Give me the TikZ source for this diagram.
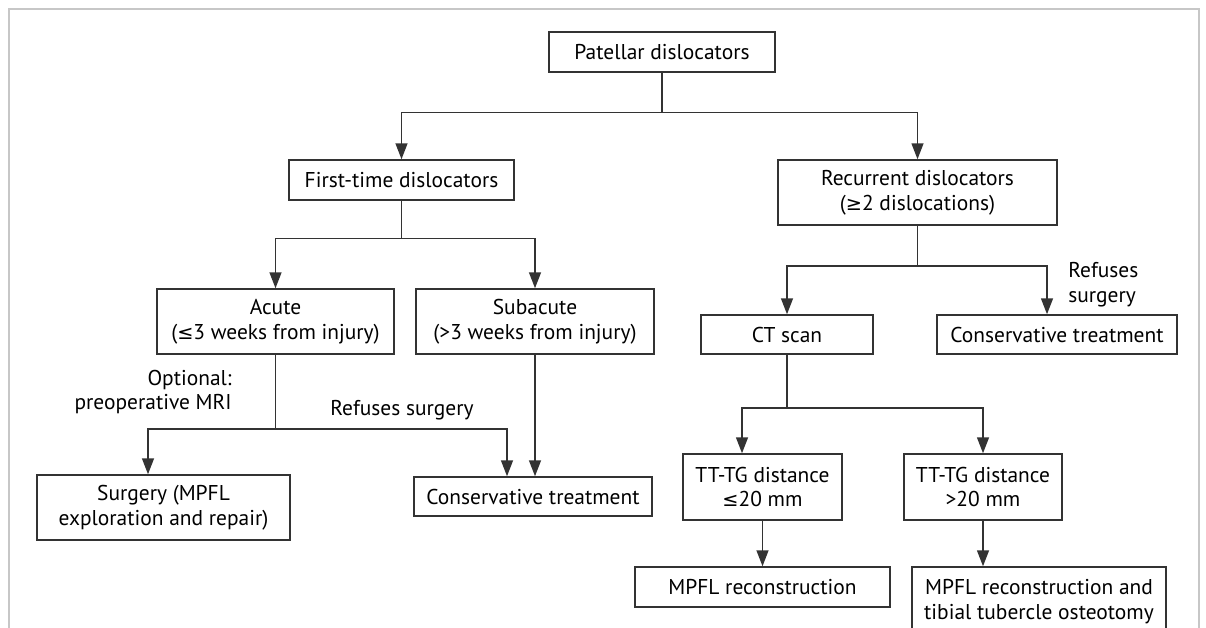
\documentclass[tikz,border=0pt]{standalone}
\usepackage{fontspec}
\setmainfont{PT Sans}
\newfontfamily\symfont{DejaVu Sans}
\newcommand{\lesym}{{\symfont\fontsize{11}{14.2}\selectfont ≤}}
\newcommand{\gesym}{{\symfont\fontsize{11}{14.2}\selectfont ≥}}
\usetikzlibrary{calc,arrows.meta}

\tikzset{
  box/.style={draw=black!80, line width=0.03cm, align=center, inner sep=0pt,
    font=\fontsize{12.2}{14.2}\selectfont},
  boxsize/.style 2 args={minimum width=#1*0.02cm, minimum height=#2*0.02cm},
  line/.style={draw=black!80, line width=0.03cm},
  arr/.style={line, -{Triangle[length=0.32cm,width=0.24cm]}},
  lbl/.style={font=\fontsize{12.2}{14.2}\selectfont, inner sep=0pt}
}

\begin{document}
\begin{tikzpicture}[x=0.02cm,y=-0.02cm]
   \useasboundingbox (0,0) rectangle (1206,628);
   \draw[black!22,line width=0.03cm] (9,640)--(9,9)--(1199,9)--(1199,640);

   % boxes
   \node[box,boxsize={226}{40}] (pat) at (662,52) {Patellar dislocators};
   \node[box,boxsize={225}{40}] (first) at (401.5,180) {First-time dislocators};
   \node[box,boxsize={279}{65}] (recur) at (917.5,192.5) {Recurrent dislocators\\(\gesym2 dislocations)};
   \node[box,boxsize={237}{65}] (acute) at (275.5,321.5) {Acute\\(\lesym3 weeks from injury)};
   \node[box,boxsize={238}{65}] (subac) at (535,321.5) {Subacute\\(>3 weeks from injury)};
   \node[box,boxsize={172}{39}] (ct) at (787,334.5) {CT scan};
   \node[box,boxsize={240}{39}] (consR) at (1057,334.5) {Conservative treatment};
   \node[box,boxsize={253}{65}] (surg) at (163.5,507.5) {Surgery (MPFL\\exploration and repair)};
   \node[box,boxsize={238}{39}] (consM) at (533,496.5) {Conservative treatment};
   \node[box,boxsize={159}{66}] (tt1) at (762.5,487) {TT-TG distance\\\lesym20 mm};
   \node[box,boxsize={158}{66}] (tt2) at (983,487) {TT-TG distance\\>20 mm};
   \node[box,boxsize={255}{40}] (mpfl) at (762.5,587) {MPFL reconstruction};
   \node[box,boxsize={254}{70}] (tto) at (1039,602) {MPFL reconstruction and\\tibial tubercle osteotomy};

   % labels
   \node[lbl,anchor=east,align=right] (opt) at (232,392) {Optional:\\preoperative MRI};
   \node[lbl] (refM) at (402,410) {Refuses surgery};
   \node[lbl,anchor=west,align=left] (refR) at (1068,284.5) {Refuses\\surgery};

   % branch points
   \coordinate (j1) at ($(pat.south)+(0,40)$);
   \coordinate (j2) at ($(first.south)+(0,38)$);
   \coordinate (j3) at ($(recur.south)+(0,40)$);
   \coordinate (j4) at ($(acute.south)+(0,74)$);
   \coordinate (j5) at ($(ct.south)+(0,53)$);

   \draw[line] (pat) -- (j1);
   \draw[arr] (j1) -| (first);
   \draw[arr] (j1) -| (recur);

   \draw[line] (first.south) -- (j2);
   \draw[arr] (j2) -| (acute);
   \draw[arr] (j2) -| (subac);

   \draw[line] (recur) -- (j3);
   \draw[arr] (j3) -| (ct);
   \draw[arr] (j3) -| ([xshift=-0.2cm]consR.north);

   \draw[line] (acute.south) -- (j4);
   \draw[arr] (j4) -| ([xshift=-0.31cm]surg.north);
   \draw[arr] (j4) -| ([xshift=-0.52cm]consM.north);
   \draw[arr] (subac) -- (subac |- consM.north);

   \draw[line] (ct.south) -- (j5);
   \draw[arr] (j5) -| ([xshift=-0.41cm]tt1.north);
   \draw[arr] (j5) -| (tt2);
   \draw[arr] (tt1) -- (mpfl);
   \draw[arr] (tt2) -- (tt2 |- tto.north);
\end{tikzpicture}
\end{document}
